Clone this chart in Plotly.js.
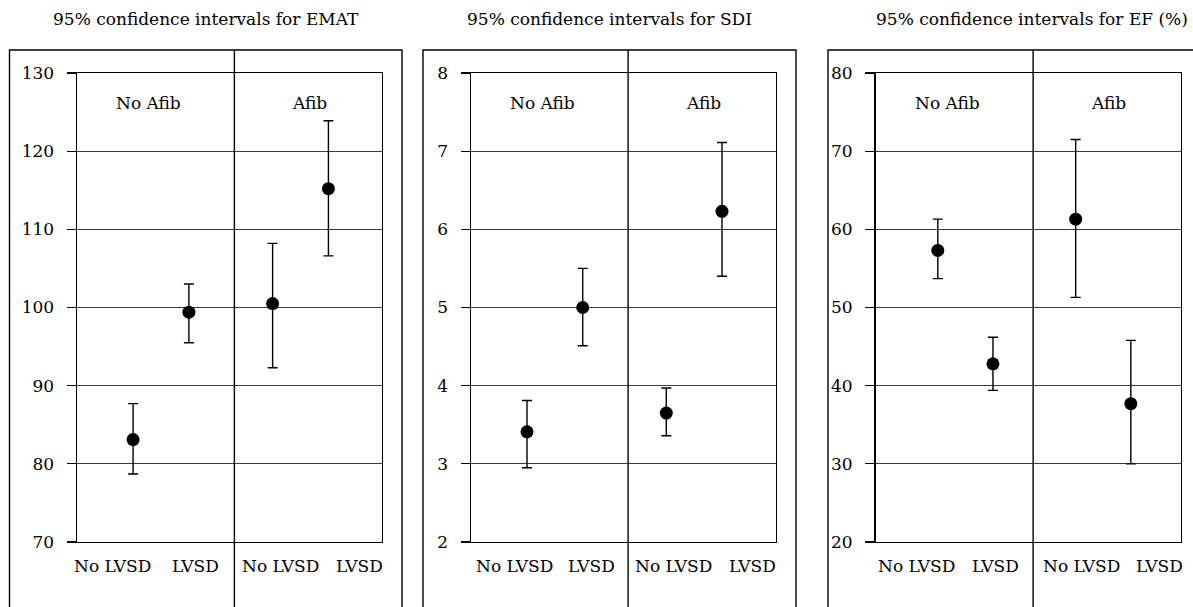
<!DOCTYPE html>
<html>
<head>
<meta charset="utf-8">
<script src="https://cdn.plot.ly/plotly-3.0.1.min.js"></script>
<style>html,body{margin:0;padding:0;background:#fff;}#chart{width:1193px;height:607px;}</style>
</head>
<body>
<div id="chart"></div>
<script>
// ---- data ----
const categories = ['No LVSD', 'LVSD', 'No LVSD', 'LVSD'];
const groups = ['No Afib', 'Afib'];
const titles = ['95% confidence intervals for EMAT', '95% confidence intervals for SDI', '95% confidence intervals for EF (%)'];

const ematMean  = [83.1, 99.4, 100.5, 115.2];
const ematLower = [78.7, 95.5, 92.3, 106.6];
const ematUpper = [87.7, 103.0, 108.2, 123.9];

const sdiMean  = [3.41, 5.00, 3.65, 6.23];
const sdiLower = [2.95, 4.51, 3.36, 5.40];
const sdiUpper = [3.81, 5.50, 3.97, 7.11];

const efMean  = [57.3, 42.8, 61.3, 37.7];
const efLower = [53.7, 39.4, 51.3, 30.0];
const efUpper = [61.3, 46.2, 71.5, 45.8];

const emaTicks = [70, 80, 90, 100, 110, 120, 130];
const sdiTicks = [2, 3, 4, 5, 6, 7, 8];
const efTicks  = [20, 30, 40, 50, 60, 70, 80];

// ---- layout helpers ----
const W = 1193, H = 607;
const FONT = 'DejaVu Serif';
const FS = 17;
const panels = [
  {mean: ematMean, lo: ematLower, hi: ematUpper, ticks: emaTicks, plot: [77, 382], outer: [9.5, 402], xr: [-0.005, 5.46], lab: [0.116, 0.39, 0.666, 0.925], tc: 206},
  {mean: sdiMean,  lo: sdiLower,  hi: sdiUpper,  ticks: sdiTicks, plot: [471, 775.5], outer: [423, 796], xr: [-0.005, 5.46], lab: [0.143, 0.397, 0.666, 0.924], tc: 609.5},
  {mean: efMean,   lo: efLower,   hi: efUpper,   ticks: efTicks,  plot: [875.5, 1181], outer: [828, 1240], xr: [-0.13, 5.41], lab: [0.134, 0.392, 0.675, 0.93], tc: 1032}
];
const plotTop = 73, plotBottom = 542, outerTop = 50;
const yDom = [1 - plotBottom / H, 1 - plotTop / H];

const traces = [];
const layout = {
  width: W, height: H,
  margin: {l: 0, r: 0, t: 0, b: 0},
  paper_bgcolor: '#fff', plot_bgcolor: '#fff',
  showlegend: false,
  font: {family: FONT, size: FS, color: '#000'},
  shapes: [], annotations: []
};

panels.forEach((p, k) => {
  const n = k + 1;
  const xa = 'x' + (n === 1 ? '' : n), ya = 'y' + (n === 1 ? '' : n);
  const xs = categories.map((c, i) => 1 + i + 0.5 * Math.floor(i / 2));
  traces.push({
    type: 'scatter', mode: 'markers', xaxis: xa, yaxis: ya,
    x: xs, y: p.mean,
    marker: {color: '#000', size: 13, symbol: 'circle'},
    error_y: {type: 'data', symmetric: false,
      array: p.mean.map((m, i) => p.hi[i] - m),
      arrayminus: p.mean.map((m, i) => m - p.lo[i]),
      color: '#000', thickness: 1.4, width: 5},
    hoverinfo: 'skip'
  });
  const xKey = 'xaxis' + (n === 1 ? '' : n), yKey = 'yaxis' + (n === 1 ? '' : n);
  layout[xKey] = {
    domain: [p.plot[0] / W, p.plot[1] / W], anchor: ya,
    range: p.xr, showgrid: false, zeroline: false, showticklabels: false, ticks: '',
    showline: true, mirror: true, linecolor: '#000', linewidth: 1.4, fixedrange: true
  };
  layout[yKey] = {
    domain: yDom, anchor: xa,
    range: [p.ticks[0], p.ticks[p.ticks.length - 1]],
    tickvals: p.ticks, ticktext: p.ticks.map(String),
    ticks: 'outside', ticklen: 9, tickcolor: '#000', tickwidth: 1.3,
    ticklabelstandoff: 9,
    tickfont: {family: FONT, size: FS, color: '#000'},
    showgrid: true, gridcolor: '#3c3c3c', gridwidth: 1.2, zeroline: false,
    showline: true, mirror: true, linecolor: '#000', linewidth: 1.4, fixedrange: true
  };
  layout.shapes.push({type: 'rect', xref: 'paper', yref: 'paper',
    x0: p.outer[0] / W, x1: p.outer[1] / W, y0: -0.2, y1: 1 - outerTop / H,
    line: {color: '#000', width: 1.4}, fillcolor: 'rgba(0,0,0,0)', layer: 'below'});
  layout.shapes.push({type: 'line', xref: xa + ' domain', yref: 'paper',
    x0: 0.516, x1: 0.516, y0: -0.2, y1: 1 - outerTop / H,
    line: {color: '#000', width: 1.4}});
  layout.annotations.push({text: titles[k], xref: 'paper', yref: 'paper',
    x: p.tc / W, y: 1 - 19 / H, xanchor: 'center', yanchor: 'middle', showarrow: false,
    font: {family: FONT, size: FS, color: '#000'}});
  [0.235, 0.762].forEach((fx, g) => {
    layout.annotations.push({text: groups[g], xref: xa + ' domain', yref: ya + ' domain',
      x: fx, y: 1 - 30 / (plotBottom - plotTop), xanchor: 'center', yanchor: 'middle', showarrow: false,
      font: {family: FONT, size: FS, color: '#000'}});
  });
  categories.forEach((c, i) => {
    layout.annotations.push({text: c, xref: xa + ' domain', yref: ya + ' domain',
      x: p.lab[i], y: -24 / (plotBottom - plotTop), xanchor: 'center', yanchor: 'middle', showarrow: false,
      font: {family: FONT, size: FS, color: '#000'}});
  });
});

Plotly.newPlot('chart', traces, layout, {staticPlot: true, displayModeBar: false});
</script>
</body>
</html>
